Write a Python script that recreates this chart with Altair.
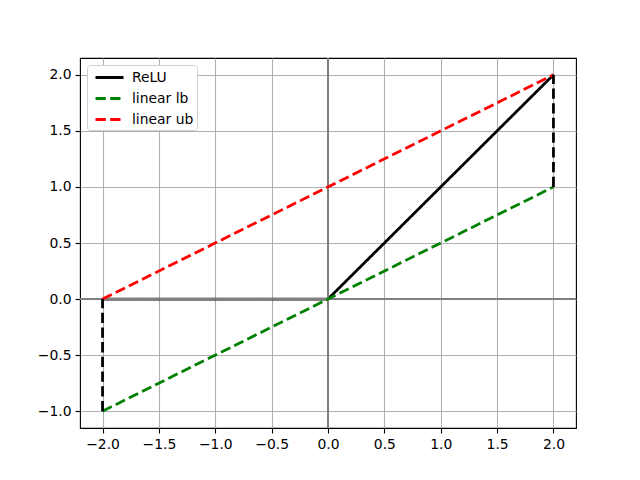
import altair as alt
import pandas as pd

series_names = ["ReLU", "linear lb", "linear ub"]
series_colors = ["black", "green", "red"]

relu_x = [-2.0, 0.0, 2.0]
relu_y = [0.0, 0.0, 2.0]
lb_x = [-2.0, 2.0]
lb_y = [-1.0, 1.0]
ub_x = [-2.0, 2.0]
ub_y = [0.0, 2.0]

# vertical dashed segments (bounds at the interval ends)
vl_x = [-2.0, -2.0]
vl_y = [-1.0, 0.0]
vr_x = [2.0, 2.0]
vr_y = [1.0, 2.0]

x_ticks = [-2.0, -1.5, -1.0, -0.5, 0.0, 0.5, 1.0, 1.5, 2.0]
y_ticks = [-1.0, -0.5, 0.0, 0.5, 1.0, 1.5, 2.0]

rows = []
for i, (xs, ys) in enumerate([(relu_x, relu_y), (lb_x, lb_y), (ub_x, ub_y)]):
    for k, (a, b) in enumerate(zip(xs, ys)):
        rows.append({"series": series_names[i], "x": a, "y": b, "order": k})
lines_df = pd.DataFrame(rows)

vrows = []
for name, xs, ys in [("left", vl_x, vl_y), ("right", vr_x, vr_y)]:
    for k, (a, b) in enumerate(zip(xs, ys)):
        vrows.append({"seg": name, "x": a, "y": b, "order": k})
vert_df = pd.DataFrame(vrows)

zero_df = pd.DataFrame({"v": [0.0]})

label_expr = "replace(format(datum.value, '.1f'), '-', '\u2212')"

xscale = alt.Scale(domain=[-2.2, 2.2], nice=False, zero=False)
yscale = alt.Scale(domain=[-1.15, 2.15], nice=False, zero=False)

xaxis = alt.Axis(values=x_ticks, labelExpr=label_expr, title=None, grid=True)
yaxis = alt.Axis(values=y_ticks, labelExpr=label_expr, title=None, grid=True)

LW = 2.78
dash = [10.3, 4.4]

base_relu = alt.Chart(lines_df).transform_filter(alt.datum.series == "ReLU").mark_line(
    strokeWidth=LW, clip=True
).encode(
    x=alt.X("x:Q", scale=xscale, axis=xaxis),
    y=alt.Y("y:Q", scale=yscale, axis=yaxis),
    order="order:Q",
    color=alt.Color("series:N", scale=alt.Scale(domain=series_names, range=series_colors),
                    legend=alt.Legend(title=None, orient="none", legendX=7, legendY=7,
                                      symbolType="M-1.75,0H1.75", symbolStrokeWidth=LW,
                                      symbolSize=256, labelFontSize=13.9,
                                      labelFont="DejaVu Sans", rowPadding=4,
                                      padding=3, fillColor="white",
                                      strokeColor="#d0d0d0", cornerRadius=3,
                                      labelColor="black", labelOffset=13,
                                      symbolOffset=10)),
    strokeDash=alt.StrokeDash("series:N",
                              scale=alt.Scale(domain=series_names, range=[[1, 0], dash, dash]),
                              legend=None),
)

hline = alt.Chart(zero_df).mark_rule(color="grey", strokeWidth=2).encode(y=alt.Y("v:Q", scale=yscale))
vline = alt.Chart(zero_df).mark_rule(color="grey", strokeWidth=2).encode(x=alt.X("v:Q", scale=xscale))

others = alt.Chart(lines_df).transform_filter(alt.datum.series != "ReLU").mark_line(
    strokeWidth=LW, clip=True
).encode(
    x=alt.X("x:Q", scale=xscale),
    y=alt.Y("y:Q", scale=yscale),
    order="order:Q",
    color=alt.Color("series:N", scale=alt.Scale(domain=series_names, range=series_colors)),
    strokeDash=alt.StrokeDash("series:N",
                              scale=alt.Scale(domain=series_names, range=[[1, 0], dash, dash]),
                              legend=None),
)

verts = alt.Chart(vert_df).mark_line(strokeWidth=LW, color="black", strokeDash=dash, clip=True).encode(
    x=alt.X("x:Q", scale=xscale),
    y=alt.Y("y:Q", scale=yscale),
    detail="seg:N",
    order="order:Q",
)

chart = alt.layer(base_relu, hline, vline, others, verts).properties(
    width=496, height=370,
    padding={"left": 72, "top": 50, "right": 10, "bottom": 50},
    autosize=alt.AutoSizeParams(type="none"),
).configure_view(
    stroke="black", strokeWidth=1.1
).configure_axis(
    domain=False,
    gridColor="#b0b0b0", gridWidth=1.1,
    tickColor="black", tickSize=5, tickWidth=1.1,
    labelFont="DejaVu Sans", labelFontSize=13.9, labelColor="black",
    labelPadding=4,
)

chart.save("out.html", embed_options={"renderer": "svg", "actions": False})
